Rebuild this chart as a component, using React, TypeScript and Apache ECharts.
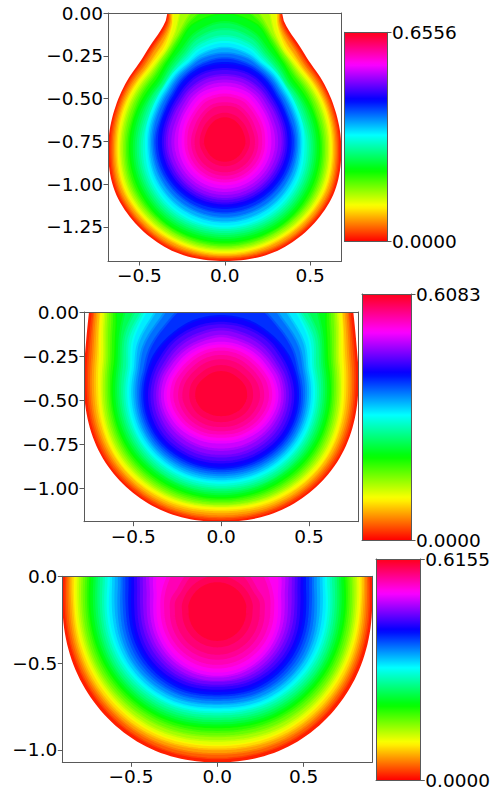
import React, { useEffect, useRef } from "react";
import * as echarts from "echarts";

// Field maxima (colour bar tops)
const MAX_1 = 0.6556;
const MAX_2 = 0.6083;
const MAX_3 = 0.6155;

// Axis limits
const XLIM_1 = 0.684;
const YLIM_1 = -1.45;
const XLIM_2 = 0.78;
const YLIM_2 = -1.19;
const XLIM_3 = 0.898;
const YLIM_3 = -1.072;

// Tick labels
const XTICKS = [-0.5, 0, 0.5];
const YTICKS_1 = [0, -0.25, -0.5, -0.75, -1, -1.25];
const YTICKS_2 = [0, -0.25, -0.5, -0.75, -1];
const YTICKS_3 = [0, -0.5, -1];

// Position of each field's maximum on the y axis
const PEAK_Y_1 = -0.754;
const PEAK_Y_2 = -0.4716;
const PEAK_Y_3 = -0.206;

// Radii read at these many measured steps per axis unit
const STEPS_1 = 171;
const STEPS_2 = 176;
const STEPS_3 = 173;

// Ray directions (degrees) along which contour radii were read; mirrored in x
const RAYS_1 = [90, 75, 65, 55, 40, 20, 0, -30, -60, -90];
const RAYS_2 = [90, 70, 50, 32, 15, 0, -30, -60, -90];
const RAYS_3 = [90, 60, 30, 13, 0, -30, -60, -90];

// One row per contour level (outermost first: 24 equal steps of the field), one column per ray
const CONTOURS_1 = [
  [230, 224, 137, 124, 116, 115, 116.5, 121, 121, 119],
  [225, 212, 134, 121, 113.5, 113, 114, 118.5, 118.5, 117],
  [220, 200, 131, 118, 110.5, 110.5, 111.5, 116, 116, 115],
  [210, 188, 128, 114, 107.5, 108, 109, 113, 113, 113],
  [200, 175, 125, 110, 105, 105.5, 106.5, 110.5, 110.5, 110.5],
  [180, 150, 119, 107, 102, 102.5, 104, 107.5, 108, 108],
  [160, 133, 115, 105, 99, 99.5, 101, 104.5, 105, 105.5],
  [140, 127, 112, 102, 96, 96, 98, 101.5, 102.5, 103],
  [128, 122, 108, 99, 92, 93, 95, 98, 100, 100],
  [120, 113, 102, 95, 88, 89, 91, 94, 96, 96],
  [113, 107, 97, 91, 85, 85, 87, 90, 92, 92],
  [106, 101, 93, 88, 82, 81, 83, 86, 88, 88],
  [100, 96, 89, 86, 81, 79, 79, 82, 84, 84.5],
  [94.5, 91, 86, 83, 78, 76, 76, 78, 79.5, 80],
  [89, 87, 83, 80, 75, 73, 73, 74, 75, 75.5],
  [84, 82, 79.5, 76.5, 71.5, 69, 70, 70, 70.5, 71],
  [79, 78, 76, 73, 68, 66, 66, 66, 66, 66],
  [73, 72.5, 71, 68, 64, 62, 62, 61.5, 61.5, 61.5],
  [67, 66.5, 65, 63, 59.5, 58, 58, 57, 57, 57],
  [61, 60.5, 59, 57.5, 54, 52, 52, 51.5, 51.5, 51.5],
  [54, 53.5, 53, 51, 48, 46, 45, 45, 45, 45],
  [47, 46.5, 46, 44, 41.5, 40, 39, 39, 39, 39],
  [38, 38, 37, 35.5, 33.5, 32, 32, 32, 32, 32],
  [27, 26.5, 26, 25, 24, 23, 23, 22, 22, 22],
];

const CONTOURS_2 = [
  [250, 250, 205, 156, 141.5, 137, 134, 130, 126.7],
  [250, 250, 198, 152, 138, 133.5, 131, 127, 124],
  [250, 250, 192, 149, 134, 130, 127.5, 124, 121],
  [250, 250, 186, 145, 130, 126, 124, 120.5, 117],
  [250, 250, 180, 142, 126, 122, 121, 117, 113.5],
  [240, 240, 174, 138, 122, 119, 117.5, 114, 111],
  [230, 230, 170, 134, 118.5, 115.5, 114, 111, 108.5],
  [220, 220, 165, 129, 115, 112, 110.5, 107.5, 105.5],
  [210, 210, 160, 124, 111, 109, 107, 104, 102.5],
  [200, 200, 140, 119, 107, 105, 103, 100, 99],
  [190, 190, 125, 114, 103, 101, 99, 97, 95],
  [180, 170, 118, 109, 98, 97, 95, 93, 91.5],
  [170, 150, 114, 104, 94, 93, 91.5, 89, 87.5],
  [140, 130, 105, 98, 90, 89, 87.5, 85.5, 84],
  [115, 110, 97, 92, 86, 85, 84, 81.5, 80],
  [95, 96, 89, 85, 81, 81, 80, 77.5, 76],
  [79, 79, 78, 78, 77, 77, 76, 73.5, 72.5],
  [72, 72, 72, 71, 71.5, 72, 71, 68.5, 67],
  [66, 65, 65, 64.5, 66, 66.5, 65, 62.5, 61],
  [59, 58, 58.5, 59, 61, 61.5, 59, 56, 54.5],
  [52, 52, 52.5, 53, 55, 56, 53, 49, 47],
  [46, 46, 46, 47, 49, 49.5, 46.5, 43, 41],
  [38, 38, 38, 39, 40.5, 41, 38.5, 35.5, 34],
  [27, 27, 27, 28, 29, 29, 27.5, 25, 24],
];

const CONTOURS_3 = [
  [220, 220, 177, 159, 155, 153, 152, 150],
  [220, 218, 173, 156, 152, 149, 148, 146],
  [220, 215, 169, 153, 148.5, 145.5, 144, 141.5],
  [220, 212, 165, 150, 145, 142, 140, 137],
  [220, 210, 160, 146.5, 142, 138, 136, 133],
  [215, 208, 156, 143, 138.5, 134.5, 132, 128.5],
  [210, 205, 153, 139, 135, 131, 127.5, 124],
  [205, 202, 149, 135, 131, 127, 123, 119.5],
  [200, 200, 145, 131, 127.5, 123, 119, 115],
  [190, 190, 140, 126.5, 123, 119, 115, 111],
  [180, 180, 135, 122, 118.5, 115, 110.5, 106.5],
  [170, 170, 130, 117, 114, 110.5, 106, 102],
  [160, 160, 125, 112, 109.5, 106, 102, 98],
  [155, 152, 119, 107, 104, 101.5, 98, 94],
  [150, 145, 113, 101, 98.5, 97, 93.5, 90],
  [145, 138, 107, 96, 93, 91.5, 89, 85.5],
  [140, 130, 100, 90, 87.5, 86, 84, 81],
  [125, 118, 94, 84, 81.5, 80.5, 78.5, 76],
  [110, 106, 87, 78, 75.5, 74, 73, 71],
  [98, 96, 80, 71, 69, 68, 67.5, 67],
  [85, 85, 72, 64, 62.5, 62, 62, 62],
  [65, 65, 59, 56.5, 55, 54.5, 54.5, 54.5],
  [46, 47, 44, 46, 45, 45, 45, 45],
  [33, 33, 33, 33, 32, 32, 32, 32],
];

// Matplotlib "hsv" colormap stops
const HSV_STOPS: [number, number[]][] = [
  [0, [255, 0, 0]],
  [0.15873, [255, 239, 0]],
  [0.174603, [247, 255, 0]],
  [0.333333, [8, 255, 0]],
  [0.349206, [0, 255, 16]],
  [0.507937, [0, 255, 255]],
  [0.666667, [0, 16, 255]],
  [0.68254, [8, 0, 255]],
  [0.84127, [247, 0, 255]],
  [0.857143, [255, 0, 239]],
  [1, [255, 0, 24]],
];

const hsv = (f: number) => {
  for (let i = 1; i < HSV_STOPS.length; i++) {
    const [f1, c1] = HSV_STOPS[i];
    const [f0, c0] = HSV_STOPS[i - 1];
    if (f <= f1) {
      const t = (f - f0) / (f1 - f0);
      const m = c0.map((c, j) => Math.round(c + (c1[j] - c) * t));
      return `rgb(${m[0]},${m[1]},${m[2]})`;
    }
  }
  return "rgb(255,0,24)";
};

// Monotone cubic curve through one contour's (angle, radius) readings: draws the
// contour as a smooth line through its read radii, without overshoot.
function curveThrough(rays: number[], row: number[]) {
  const t = [...rays].reverse();
  const r = [...row].reverse();
  const n = t.length;
  const s = t.slice(1).map((_, i) => (r[i + 1] - r[i]) / (t[i + 1] - t[i]));
  const m = t.map((_, i) => {
    if (i === 0 || i === n - 1) return 0;
    if (s[i - 1] * s[i] <= 0) return 0;
    const h0 = t[i] - t[i - 1];
    const h1 = t[i + 1] - t[i];
    return (h0 + h1) / ((2 * h1 + h0) / (3 * s[i - 1]) + (h1 + 2 * h0) / (3 * s[i]));
  });
  return (deg: number) => {
    let i = 0;
    while (i < n - 2 && deg > t[i + 1]) i++;
    const h = t[i + 1] - t[i];
    const u = (deg - t[i]) / h;
    return (
      (1 + 2 * u) * (1 - u) * (1 - u) * r[i] +
      u * (1 - u) * (1 - u) * h * m[i] +
      u * u * (3 - 2 * u) * r[i + 1] +
      u * u * (u - 1) * h * m[i + 1]
    );
  };
}

const FONT = "DejaVu Sans";
const FONT_SIZE = 18.5;
const LINE = "#595959";

const fmt = (d: number) => (v: number) => Number(v).toFixed(d).replace("-", "\u2212");

type Panel = {
  box: { left: number; top: number; width: number; height: number };
  cbBox: { left: number; top: number; width: number; height: number };
  xlim: number;
  ylim: number;
  yticks: number[];
  yDec: number;
  max: number;
  peak: number;
  steps: number;
  rays: number[];
  contours: number[][];
};

const PANELS: Panel[] = [
  {
    box: { left: 108, top: 13, width: 233.5, height: 248 },
    cbBox: { left: 344.5, top: 32.3, width: 42.5, height: 209 },
    xlim: XLIM_1, ylim: YLIM_1, yticks: YTICKS_1, yDec: 2, max: MAX_1,
    peak: PEAK_Y_1, steps: STEPS_1, rays: RAYS_1, contours: CONTOURS_1,
  },
  {
    box: { left: 84, top: 312, width: 274.3, height: 209.7 },
    cbBox: { left: 362, top: 294, width: 49, height: 246 },
    xlim: XLIM_2, ylim: YLIM_2, yticks: YTICKS_2, yDec: 2, max: MAX_2,
    peak: PEAK_Y_2, steps: STEPS_2, rays: RAYS_2, contours: CONTOURS_2,
  },
  {
    box: { left: 62.3, top: 576.3, width: 310, height: 186 },
    cbBox: { left: 376, top: 559, width: 44.7, height: 221 },
    xlim: XLIM_3, ylim: YLIM_3, yticks: YTICKS_3, yDec: 1, max: MAX_3,
    peak: PEAK_Y_3, steps: STEPS_3, rays: RAYS_3, contours: CONTOURS_3,
  },
];

const frameAxis = (gridIndex: number, min: number, max: number, position: string) => ({
  type: "value",
  gridIndex,
  min,
  max,
  position,
  z: 5,
  silent: true,
  splitLine: { show: false },
  axisLine: { show: true, onZero: false, lineStyle: { color: LINE, width: 1 } },
  axisTick: { show: false },
  axisLabel: { show: false },
});

const tickAxis = (
  gridIndex: number,
  min: number,
  max: number,
  position: string,
  ticks: number[],
  formatter: (v: number) => string,
) => ({
  ...frameAxis(gridIndex, min, max, position),
  axisTick: { show: true, customValues: ticks, length: 4.5, lineStyle: { color: LINE, width: 1 } },
  axisLabel: {
    show: true,
    customValues: ticks,
    formatter,
    fontFamily: FONT,
    fontSize: FONT_SIZE,
    color: "#000",
    margin: 5,
  },
});

function buildOption() {
  const grids: any[] = [];
  const xAxes: any[] = [];
  const yAxes: any[] = [];
  const series: any[] = [];

  PANELS.forEach((p) => {
    const g = grids.length;
    grids.push({ ...p.box, show: false });
    const xi = xAxes.length;
    const yi = yAxes.length;
    xAxes.push(tickAxis(g, -p.xlim, p.xlim, "bottom", XTICKS, fmt(1)));
    xAxes.push(frameAxis(g, -p.xlim, p.xlim, "top"));
    yAxes.push(tickAxis(g, p.ylim, 0, "left", p.yticks, fmt(p.yDec)));
    yAxes.push(frameAxis(g, p.ylim, 0, "right"));

    const n = p.contours.length;
    const rayZero = p.rays.indexOf(0);
    series.push({
      type: "custom",
      coordinateSystem: "cartesian2d",
      xAxisIndex: xi,
      yAxisIndex: yi,
      clip: true,
      silent: true,
      data: p.contours.map((_, k) => [0, p.peak, k]),
      encode: { x: 0, y: 1 },
      renderItem: (params: any, api: any) => {
        const k = params.dataIndex;
        const row = p.contours[k];
        const radius = curveThrough(p.rays, row);
        const right: number[][] = [];
        for (let deg = 90; deg >= -90; deg -= 2) {
          const a = (deg * Math.PI) / 180;
          const r = radius(deg) / p.steps;
          right.push([r * Math.cos(a), p.peak + r * Math.sin(a)]);
        }
        const left = right
          .slice(1, -1)
          .reverse()
          .map(([x, y]) => [-x, y]);
        const points = [...right, ...left].map((pt) => api.coord(pt));
        const fill = hsv((k + 0.5) / n);
        // Each contour line carries the colour of its own level, half a band wide.
        const gap = k > 0 ? p.contours[k - 1][rayZero] - row[rayZero] : 0;
        return {
          type: "polygon",
          shape: { points },
          style: k > 0
            ? { fill, stroke: hsv(k / n), lineWidth: gap * 0.5, lineJoin: "round" }
            : { fill },
        };
      },
    });

    // colour bar
    const cg = grids.length;
    grids.push({ ...p.cbBox, show: false });
    const cxi = xAxes.length;
    const cyi = yAxes.length;
    xAxes.push(frameAxis(cg, 0, 1, "bottom"));
    xAxes.push(frameAxis(cg, 0, 1, "top"));
    yAxes.push(tickAxis(cg, 0, p.max, "right", [0, p.max], fmt(4)));
    yAxes.push(frameAxis(cg, 0, p.max, "left"));
    series.push({
      type: "custom",
      coordinateSystem: "cartesian2d",
      xAxisIndex: cxi,
      yAxisIndex: cyi,
      clip: true,
      silent: true,
      data: [[0, 0, 1, p.max]],
      encode: { x: [0, 2], y: [1, 3] },
      renderItem: (_: any, api: any) => {
        const a = api.coord([api.value(0), api.value(1)]);
        const b = api.coord([api.value(2), api.value(3)]);
        return {
          type: "rect",
          shape: { x: a[0], y: b[1], width: b[0] - a[0], height: a[1] - b[1] },
          style: {
            fill: new echarts.graphic.LinearGradient(
              0, 1, 0, 0,
              HSV_STOPS.map(([offset, c]) => ({ offset, color: `rgb(${c[0]},${c[1]},${c[2]})` })),
            ),
          },
        };
      },
    });
  });

  return {
    animation: false,
    backgroundColor: "#fff",
    grid: grids,
    xAxis: xAxes,
    yAxis: yAxes,
    series,
  };
}

export default function App() {
  const ref = useRef<HTMLDivElement>(null);
  useEffect(() => {
    const chart = echarts.init(ref.current!, undefined, { renderer: "svg" });
    chart.setOption(buildOption() as any);
    return () => chart.dispose();
  }, []);
  return (
    <div
      ref={ref}
      style={{ position: "fixed", left: 0, top: 0, width: 493, height: 794 }}
    />
  );
}
